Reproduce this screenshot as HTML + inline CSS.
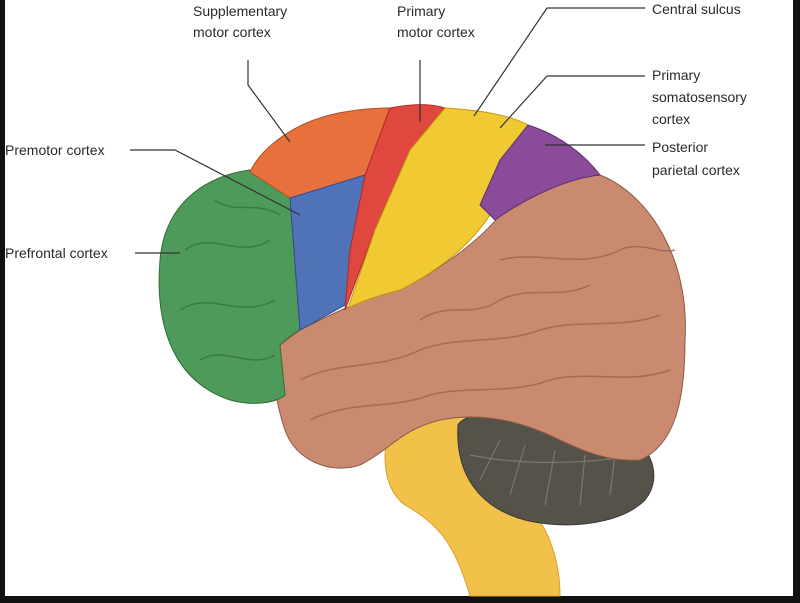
<!DOCTYPE html>
<html><head><style>
html,body{margin:0;padding:0;background:#fff}
svg{display:block}
text{font-family:"Liberation Sans",sans-serif;font-size:14px;fill:#2a2a2a}
</style></head><body>
<svg width="800" height="603" viewBox="0 0 800 603">
<rect width="800" height="603" fill="#fff"/>
<rect x="0" y="0" width="5" height="603" fill="#111"/>
<rect x="793" y="0" width="7" height="603" fill="#111"/>
<rect x="0" y="596" width="800" height="7" fill="#111"/>
<!-- brainstem -->
<path d="M390,420 C380,460 385,490 405,505 C440,525 455,545 470,596 L560,596 C560,560 548,530 535,515 C515,490 495,465 475,430 L460,400 Z" fill="#f2c14a" stroke="#d9a030"/>
<!-- cerebellum -->
<path d="M458,425 C470,405 560,405 610,420 C650,440 665,475 645,500 C620,525 565,530 525,520 C480,508 455,475 458,425 Z" fill="#55524a" stroke="#3a3833"/>
<g stroke="#7a776c" stroke-width="1.2" fill="none">
<path d="M470,455 C520,465 580,465 640,455"/><path d="M480,480 L500,440"/><path d="M510,495 L525,445"/><path d="M545,505 L555,450"/><path d="M580,505 L585,455"/><path d="M610,495 L615,455"/>
</g>
<!-- brown temporal/parietal -->
<path d="M300,330 C340,310 360,300 400,290 C440,270 480,240 500,215 C530,190 570,175 600,175 C650,195 690,260 685,340 C685,400 675,445 640,460 C610,462 585,452 560,440 C520,420 480,412 440,420 C400,430 390,450 360,465 C330,475 295,460 285,430 C275,400 270,370 280,345 Z" fill="#c98a70" stroke="#8e5a44"/>
<g stroke="#9c6450" stroke-width="1.5" fill="none" opacity="0.8">
<path d="M300,380 C340,360 380,370 420,350 C460,335 500,345 540,330 C580,318 620,330 660,315"/>
<path d="M310,420 C350,400 390,410 430,395 C470,385 510,395 550,380 C590,370 630,385 670,370"/>
<path d="M500,260 C540,250 580,270 620,250 C640,240 660,255 675,250"/>
<path d="M420,320 C450,300 470,320 500,300 C530,285 560,300 590,285"/>
</g>
<!-- green prefrontal -->
<path d="M250,170 C210,175 165,200 160,260 C155,320 170,380 230,400 C260,408 280,400 285,395 L280,345 C290,335 300,330 300,330 L290,195 Z" fill="#4e9a5a" stroke="#2f6d3a"/>
<g stroke="#3a7a46" stroke-width="1.5" fill="none">
<path d="M185,250 C210,230 240,260 270,240"/><path d="M180,310 C210,290 240,320 275,300"/><path d="M200,360 C225,345 250,370 275,355"/><path d="M215,200 C235,215 255,200 280,215"/>
</g>
<!-- orange supplementary -->
<path d="M250,172 C260,150 290,125 330,115 C350,110 370,108 390,108 L370,175 L290,198 Z" fill="#e8703c" stroke="#b04e24"/>
<!-- blue premotor -->
<path d="M290,198 L365,175 L345,305 L300,330 Z" fill="#4f72b8" stroke="#2f4e8a"/>
<!-- red primary motor -->
<path d="M390,108 C410,104 430,103 445,108 L410,150 L375,230 L345,310 L350,250 L365,175 Z" fill="#e0473e" stroke="#a92a24"/>
<!-- yellow somatosensory -->
<path d="M445,108 C480,110 510,115 528,125 L500,190 L490,215 C470,245 440,270 400,290 C380,295 360,302 348,308 L375,230 L410,150 Z" fill="#f0c933" stroke="#c09a10"/>
<!-- purple posterior parietal -->
<path d="M528,125 C560,135 585,155 600,175 C570,178 530,195 495,220 L480,205 L500,160 Z" fill="#8a4b9a" stroke="#5e2e6e"/>
<!-- labels -->
<g stroke="#333" stroke-width="1.2" fill="none">
<polyline points="248,60 248,85 290,142"/>
<polyline points="420,60 420,122"/>
<polyline points="645,8 547,8 474,116"/>
<polyline points="645,76 547,76 500,128"/>
<polyline points="645,145 545,145"/>
<polyline points="130,150 175,150 300,215"/>
<polyline points="135,253 180,253"/>
</g>
<text x="193" y="16">Supplementary</text>
<text x="193" y="37">motor cortex</text>
<text x="397" y="16">Primary</text>
<text x="397" y="37">motor cortex</text>
<text x="652" y="14">Central sulcus</text>
<text x="652" y="80">Primary</text>
<text x="652" y="102">somatosensory</text>
<text x="652" y="124">cortex</text>
<text x="652" y="152">Posterior</text>
<text x="652" y="175">parietal cortex</text>
<text x="5" y="155">Premotor cortex</text>
<text x="5" y="258">Prefrontal cortex</text>
</svg>
</body></html>
